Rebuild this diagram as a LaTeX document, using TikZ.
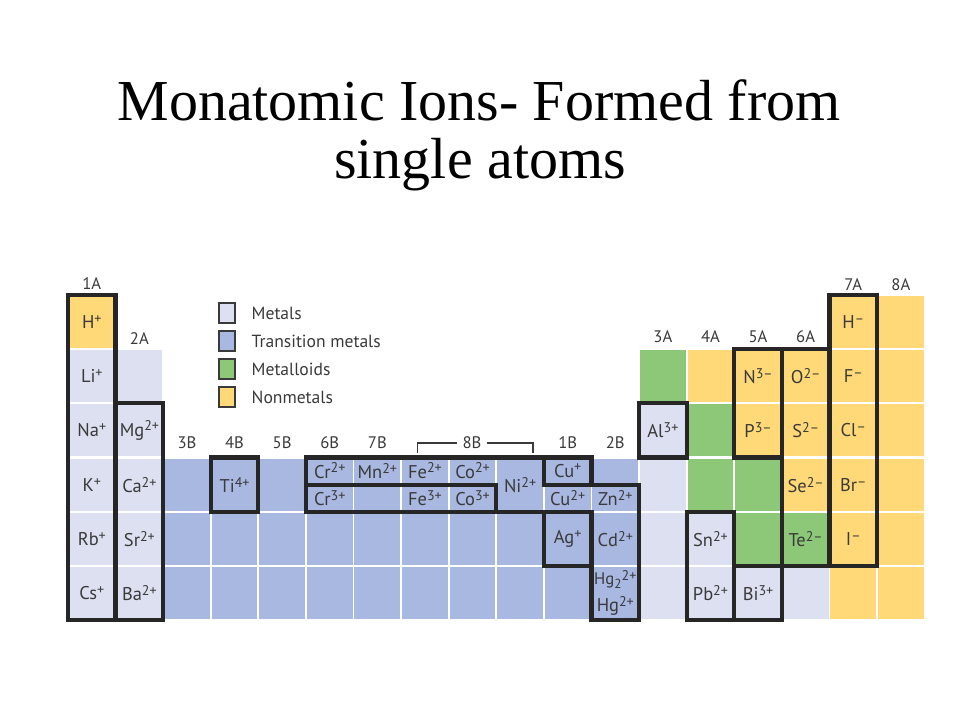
\documentclass[tikz,border=0pt]{standalone}
\usepackage{fontspec}
\setmainfont{Liberation Serif}
\newfontfamily\tablefont{PT Sans}
\usetikzlibrary{positioning}

\definecolor{metalc}{HTML}{DCE0F0}
\definecolor{transc}{HTML}{A8B8E0}
\definecolor{semic}{HTML}{8CC878}
\definecolor{nonmc}{HTML}{FFD878}
\definecolor{inkc}{HTML}{3A3A3A}

\newcommand{\chg}[1]{\raisebox{0.55ex}{\fontsize{8}{8}\selectfont#1}}
\newcommand{\chgsub}[1]{\raisebox{-0.45ex}{\fontsize{7.5}{8}\selectfont#1}}

\tikzset{
  ion/.style={font=\tablefont\fontsize{10.5}{11}\selectfont, text=inkc, inner sep=0pt},
  grouplab/.style={font=\tablefont\fontsize{9.5}{10}\selectfont, text=inkc, inner sep=1pt},
  ionbox/.style={draw=black!85, line width=2.4pt, line cap=rect},
  legbox/.style={draw=inkc, line width=0.6pt, minimum width=0.32cm, minimum height=0.4cm, inner sep=0pt},
  legtext/.style={font=\tablefont\fontsize{10}{12}\selectfont, text=inkc, inner sep=0pt},
  bracketline/.style={draw=inkc, line width=0.7pt}
}

\begin{document}
\begin{tikzpicture}[x=0.02cm,y=-0.02cm]
\useasboundingbox (0,0) rectangle (960,720);

% title
\node[font=\fontsize{33}{40}\selectfont, anchor=base] (title1) at (479,120) {Monatomic Ions- Formed from};
\node[font=\fontsize{33}{40}\selectfont, anchor=base] (title2) at (480,178) {single atoms};

% legend
\node[legbox, fill=metalc] (legmetal) at (227,313) {};
\node[legbox, fill=transc] (legtrans) at (227,341) {};
\node[legbox, fill=semic] (legsemi) at (227,369) {};
\node[legbox, fill=nonmc] (legnonm) at (227,397) {};
\node[legtext, right=9pt of legmetal] (legmetaltxt) {Metals};
\node[legtext, right=9pt of legtrans] (legtranstxt) {Transition metals};
\node[legtext, right=9pt of legsemi] (legsemitxt) {Metalloids};
\node[legtext, right=9pt of legnonm] (legnonmtxt) {Nonmetals};

% table, one unit = one cell
\begin{scope}[shift={(68,295)}, x=0.952cm, y=-1.084cm]
\foreach \c/\r in {1/2,1/3,1/4,1/5,1/6,2/2,2/3,2/4,2/5,2/6,13/3,13/4,13/5,13/6,14/5,14/6,15/6,16/6}
  \fill[metalc] (\c-0.98,\r-0.98) rectangle (\c-0.02,\r-0.02);
\foreach \c in {3,...,12}
  \foreach \r in {4,5,6}
    \fill[transc] (\c-0.98,\r-0.98) rectangle (\c-0.02,\r-0.02);
\foreach \c/\r in {13/2,14/3,14/4,15/4,15/5,16/5}
  \fill[semic] (\c-0.98,\r-0.98) rectangle (\c-0.02,\r-0.02);
\foreach \c/\r in {1/1,17/1,18/1,14/2,15/2,16/2,17/2,18/2,15/3,16/3,17/3,18/3,16/4,17/4,18/4,17/5,18/5,17/6,18/6}
  \fill[nonmc] (\c-0.98,\r-0.98) rectangle (\c-0.02,\r-0.02);

% group labels
\node[grouplab] (g1A) at (0.5,-0.21) {1A};
\node[grouplab] (g2A) at (1.5,0.8) {2A};
\foreach \c/\t in {3/3B,4/4B,5/5B,6/6B,7/7B,11/1B,12/2B}
  \node[grouplab] (g\t) at (\c-0.5,2.73) {\t};
\node[grouplab, inner sep=3pt] (g8B) at (8.49,2.73) {8B};
\coordinate (br8l) at (7.35,2.92);
\coordinate (br8r) at (9.77,2.92);
\draw[bracketline] (br8l) |- (g8B.west);
\draw[bracketline] (g8B.east) -| (br8r);
\foreach \c/\t in {13/3A,14/4A,15/5A,16/6A}
  \node[grouplab] (g\t) at (\c-0.5,0.77) {\t};
\node[grouplab] (g7A) at (16.5,-0.19) {7A};
\node[grouplab] (g8A) at (17.5,-0.19) {8A};

% ions
\node[ion] (ionH) at (0.5,0.5) {H\chg{+}};
\node[ion] (ionLi) at (0.5,1.5) {Li\chg{+}};
\node[ion] (ionNa) at (0.5,2.5) {Na\chg{+}};
\node[ion] (ionK) at (0.5,3.5) {K\chg{+}};
\node[ion] (ionRb) at (0.5,4.5) {Rb\chg{+}};
\node[ion] (ionCs) at (0.5,5.5) {Cs\chg{+}};
\node[ion] (ionMg) at (1.5,2.5) {Mg\chg{2+}};
\node[ion] (ionCa) at (1.5,3.5) {Ca\chg{2+}};
\node[ion] (ionSr) at (1.5,4.5) {Sr\chg{2+}};
\node[ion] (ionBa) at (1.5,5.5) {Ba\chg{2+}};
\node[ion] (ionTi) at (3.5,3.5) {Ti\chg{4+}};
\node[ion] (ionCrii) at (5.5,3.24) {Cr\chg{2+}};
\node[ion] (ionMn) at (6.5,3.24) {Mn\chg{2+}};
\node[ion] (ionFeii) at (7.5,3.24) {Fe\chg{2+}};
\node[ion] (ionCoii) at (8.5,3.24) {Co\chg{2+}};
\node[ion] (ionCriii) at (5.5,3.75) {Cr\chg{3+}};
\node[ion] (ionFeiii) at (7.5,3.75) {Fe\chg{3+}};
\node[ion] (ionCoiii) at (8.5,3.75) {Co\chg{3+}};
\node[ion] (ionNi) at (9.5,3.5) {Ni\chg{2+}};
\node[ion] (ionCui) at (10.5,3.24) {Cu\chg{+}};
\node[ion] (ionCuii) at (10.5,3.75) {Cu\chg{2+}};
\node[ion] (ionZn) at (11.5,3.75) {Zn\chg{2+}};
\node[ion] (ionAg) at (10.5,4.5) {Ag\chg{+}};
\node[ion] (ionCd) at (11.5,4.5) {Cd\chg{2+}};
\node[ion, font=\tablefont\fontsize{9.5}{10}\selectfont] (ionHgii) at (11.5,5.25) {Hg\chgsub{2}\chg{2+}};
\node[ion] (ionHg) at (11.5,5.74) {Hg\chg{2+}};
\node[ion] (ionAl) at (12.5,2.5) {Al\chg{3+}};
\node[ion] (ionSn) at (13.5,4.5) {Sn\chg{2+}};
\node[ion] (ionPb) at (13.5,5.5) {Pb\chg{2+}};
\node[ion] (ionN) at (14.5,1.5) {N\chg{3–}};
\node[ion] (ionP) at (14.5,2.5) {P\chg{3–}};
\node[ion] (ionBi) at (14.5,5.5) {Bi\chg{3+}};
\node[ion] (ionO) at (15.5,1.5) {O\chg{2–}};
\node[ion] (ionS) at (15.5,2.5) {S\chg{2–}};
\node[ion] (ionSe) at (15.5,3.5) {Se\chg{2–}};
\node[ion] (ionTe) at (15.5,4.5) {Te\chg{2–}};
\node[ion] (ionHm) at (16.5,0.5) {H\chg{–}};
\node[ion] (ionF) at (16.5,1.5) {F\chg{–}};
\node[ion] (ionCl) at (16.5,2.5) {Cl\chg{–}};
\node[ion] (ionBr) at (16.5,3.5) {Br\chg{–}};
\node[ion] (ionI) at (16.5,4.5) {I\chg{–}};

% ion boxes
\draw[ionbox] (0,0) rectangle (1,6);
\draw[ionbox] (1,2) rectangle (2,6);
\draw[ionbox] (3,3) rectangle (4,4);
\draw[ionbox] (10,3) -- (5,3) -- (5,4) -- (10,4);
\draw[ionbox] (5,3.5) -- (9,3.5) -- (9,4);
\draw[ionbox] (10,3) rectangle (11,3.5);
\draw[ionbox] (10,3.5) -- (12,3.5) -- (12,6) -- (11,6) -- (11,4);
\draw[ionbox] (10,4) rectangle (11,5);
\draw[ionbox] (12,2) rectangle (13,3);
\draw[ionbox] (13,4) rectangle (14,6);
\draw[ionbox] (14,5) rectangle (15,6);
\draw[ionbox] (14,1) rectangle (15,3);
\draw[ionbox] (15,1) rectangle (16,5);
\draw[ionbox] (16,0) rectangle (17,5);
\end{scope}
\end{tikzpicture}
\end{document}
